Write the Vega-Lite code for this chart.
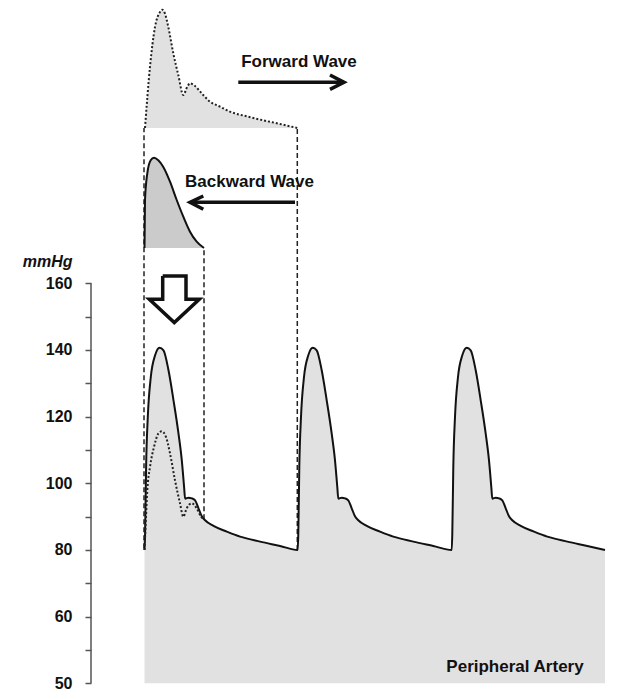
{
  "$schema": "https://vega.github.io/schema/vega-lite/v6.json",
  "autosize": {"type": "none"},
  "padding": {"left": 91, "top": 0, "right": 0, "bottom": 15.7},
  "width": 536,
  "height": 683.3,
  "background": "white",
  "config": {"view": {"stroke": null}},
  "datasets": {
    "pressure": [
      {"t": 0, "v": 80}, {"t": 0.6, "v": 84.9}, {"t": 1.6, "v": 104.9}, {"t": 3.3, "v": 119.9}, {"t": 6.3, "v": 131.9}, {"t": 10.6, "v": 138.4}, {"t": 15, "v": 140.7}, {"t": 19, "v": 139.9}, {"t": 24, "v": 133.9}, {"t": 29, "v": 124.9}, {"t": 34, "v": 114.9}, {"t": 37.3, "v": 106.9}, {"t": 39.6, "v": 98.9}, {"t": 40.6, "v": 95.4}, {"t": 44, "v": 95.7}, {"t": 47.3, "v": 95.5}, {"t": 50.6, "v": 94.9}, {"t": 54, "v": 92.5}, {"t": 57.3, "v": 90.1}, {"t": 60.6, "v": 88.9}, {"t": 69, "v": 87.2}, {"t": 82.3, "v": 85.5}, {"t": 95.6, "v": 84}, {"t": 115.6, "v": 82.5}, {"t": 135.6, "v": 81.2},
      {"t": 153.2, "v": 80}, {"t": 153.8, "v": 84.9}, {"t": 154.8, "v": 104.9}, {"t": 156.5, "v": 119.9}, {"t": 159.5, "v": 131.9}, {"t": 163.8, "v": 138.4}, {"t": 168.2, "v": 140.7}, {"t": 172.2, "v": 139.9}, {"t": 177.2, "v": 133.9}, {"t": 182.2, "v": 124.9}, {"t": 187.2, "v": 114.9}, {"t": 190.5, "v": 106.9}, {"t": 192.8, "v": 98.9}, {"t": 193.8, "v": 95.4}, {"t": 197.2, "v": 95.7}, {"t": 200.5, "v": 95.5}, {"t": 203.8, "v": 94.9}, {"t": 207.2, "v": 92.5}, {"t": 210.5, "v": 90.1}, {"t": 213.8, "v": 88.9}, {"t": 222.2, "v": 87.2}, {"t": 235.5, "v": 85.5}, {"t": 248.8, "v": 84}, {"t": 268.8, "v": 82.5}, {"t": 288.8, "v": 81.2},
      {"t": 307.2, "v": 80}, {"t": 307.8, "v": 84.9}, {"t": 308.8, "v": 104.9}, {"t": 310.5, "v": 119.9}, {"t": 313.5, "v": 131.9}, {"t": 317.8, "v": 138.4}, {"t": 322.2, "v": 140.7}, {"t": 326.2, "v": 139.9}, {"t": 331.2, "v": 133.9}, {"t": 336.2, "v": 124.9}, {"t": 341.2, "v": 114.9}, {"t": 344.5, "v": 106.9}, {"t": 346.8, "v": 98.9}, {"t": 347.8, "v": 95.4}, {"t": 351.2, "v": 95.7}, {"t": 354.5, "v": 95.5}, {"t": 357.8, "v": 94.9}, {"t": 361.2, "v": 92.5}, {"t": 364.5, "v": 90.1}, {"t": 367.8, "v": 88.9}, {"t": 376.2, "v": 87.2}, {"t": 389.5, "v": 85.5}, {"t": 402.8, "v": 84}, {"t": 422.8, "v": 82.5}, {"t": 442.8, "v": 81.2}, {"t": 460.5, "v": 80}
    ],
    "forwardPeriph": [
      {"t": 0, "v": 80}, {"t": 1.5, "v": 90}, {"t": 2.8, "v": 97.9}, {"t": 5.5, "v": 104.9}, {"t": 9.5, "v": 110.9}, {"t": 13.8, "v": 114.9}, {"t": 17.2, "v": 115.6}, {"t": 21.5, "v": 113.9}, {"t": 25.5, "v": 109}, {"t": 30.5, "v": 100.9}, {"t": 35.5, "v": 94}, {"t": 38.8, "v": 90}, {"t": 42.2, "v": 92.5}, {"t": 47.2, "v": 94}, {"t": 52.2, "v": 92.5}, {"t": 56.5, "v": 90}, {"t": 59.5, "v": 89.2}
    ],
    "forward": [
      {"t": 0.5, "v": 206.6}, {"t": 5.5, "v": 225}, {"t": 10.5, "v": 236.9}, {"t": 15.5, "v": 241.4}, {"t": 17.8, "v": 242.1}, {"t": 20.5, "v": 240.9}, {"t": 23.8, "v": 236.9}, {"t": 28.8, "v": 229}, {"t": 33.8, "v": 222.5}, {"t": 38.8, "v": 216.5}, {"t": 42.8, "v": 219}, {"t": 45.5, "v": 220}, {"t": 50.5, "v": 219.2}, {"t": 57.2, "v": 217}, {"t": 65.5, "v": 214.5}, {"t": 75.5, "v": 213}, {"t": 85.5, "v": 211.5}, {"t": 102.2, "v": 210.1}, {"t": 118.8, "v": 208.9}, {"t": 135.5, "v": 207.8}, {"t": 152.8, "v": 206.6}
    ],
    "backward": [
      {"t": 0, "v": 170.6}, {"t": 0.5, "v": 185}, {"t": 2.8, "v": 193}, {"t": 6.2, "v": 196.9}, {"t": 9.5, "v": 197.7}, {"t": 13.8, "v": 196.9}, {"t": 18.8, "v": 194.9}, {"t": 25.5, "v": 190.5}, {"t": 32.2, "v": 185}, {"t": 38.8, "v": 180}, {"t": 45.5, "v": 175.5}, {"t": 52.2, "v": 172.5}, {"t": 59.5, "v": 170.6}
    ],
    "dashes": [
      {"t": -0.5, "v": 80.5, "v2": 206.6},
      {"t": 59.5, "v": 89.2, "v2": 170.6},
      {"t": 152.8, "v": 80, "v2": 206.6}
    ],
    "axisline": [{"t": -53.5, "v": 40, "v2": 160}],
    "arrows": [
      {"id": "fs", "i": 0, "t": 93.8, "v": 220.3}, {"id": "fs", "i": 1, "t": 198.8, "v": 220.3},
      {"id": "fh", "i": 0, "t": 185.5, "v": 222.5}, {"id": "fh", "i": 1, "t": 199.5, "v": 220.3}, {"id": "fh", "i": 2, "t": 185.5, "v": 218.2},
      {"id": "bs", "i": 0, "t": 47.2, "v": 184.3}, {"id": "bs", "i": 1, "t": 150.5, "v": 184.3},
      {"id": "bh", "i": 0, "t": 58.8, "v": 186.2}, {"id": "bh", "i": 1, "t": 45.5, "v": 184.3}, {"id": "bh", "i": 2, "t": 58.8, "v": 182.2},
      {"id": "down", "i": 0, "t": 18.2, "v": 162.2}, {"id": "down", "i": 1, "t": 41.5, "v": 162.2}, {"id": "down", "i": 2, "t": 41.5, "v": 155.2}, {"id": "down", "i": 3, "t": 54.8, "v": 155.2}, {"id": "down", "i": 4, "t": 29.8, "v": 148.2}, {"id": "down", "i": 5, "t": 4.8, "v": 155.2}, {"id": "down", "i": 6, "t": 18.2, "v": 155.2}, {"id": "down", "i": 7, "t": 18.2, "v": 162.2}
    ],
    "labels": [
      {"t": 154.5, "v": 224.8, "label": "Forward Wave"},
      {"t": 105, "v": 189.0, "label": "Backward Wave"},
      {"t": 370.5, "v": 43.3, "label": "Peripheral Artery"}
    ]
  },
  "encoding": {
    "x": {"field": "t", "type": "quantitative", "scale": {"domain": [-53.5, 482.5], "nice": false, "zero": false}, "axis": null},
    "y": {"field": "v", "type": "quantitative", "scale": {"domain": [40, 245], "nice": false, "zero": false},
      "axis": {"values": [40, 50, 60, 70, 80, 90, 100, 110, 120, 130, 140, 150, 160],
        "labelExpr": "datum.value == 40 ? '50' : (datum.value % 20 == 0 ? datum.label : '')",
        "grid": false, "domain": false, "tickSize": 6, "tickWidth": 1.5, "tickColor": "#555",
        "labelPadding": 13, "labelFont": "Liberation Sans", "labelFontSize": 16, "labelFontWeight": "bold", "labelColor": "#111", "labelFlush": false, "labelOverlap": false,
        "title": "mmHg", "titleAngle": 0, "titleAlign": "right", "titleBaseline": "alphabetic", "titleX": -19, "titleY": 266,
        "titleFont": "Liberation Sans", "titleFontSize": 16, "titleFontWeight": "bold", "titleFontStyle": "italic", "titleColor": "#111"}}
  },
  "layer": [
    {"data": {"name": "pressure"}, "mark": {"type": "area", "interpolate": "monotone", "color": "#e1e1e1"}, "encoding": {"y2": {"datum": 40}}},
    {"data": {"name": "forward"}, "mark": {"type": "area", "interpolate": "monotone", "color": "#e1e1e1"}, "encoding": {"y2": {"datum": 206.6}}},
    {"data": {"name": "backward"}, "mark": {"type": "area", "interpolate": "monotone", "color": "#cbcbcb"}, "encoding": {"y2": {"datum": 170.6}}},
    {"data": {"name": "dashes"}, "mark": {"type": "rule", "color": "#222", "strokeWidth": 1.5, "strokeDash": [5, 3]}, "encoding": {"y2": {"field": "v2"}}},
    {"data": {"name": "axisline"}, "mark": {"type": "rule", "color": "#555", "strokeWidth": 1.5}, "encoding": {"y2": {"field": "v2"}}},
    {"data": {"name": "pressure"}, "mark": {"type": "line", "interpolate": "monotone", "color": "#111", "strokeWidth": 2}, "encoding": {}},
    {"data": {"name": "forwardPeriph"}, "mark": {"type": "line", "interpolate": "monotone", "color": "#222", "strokeWidth": 2, "strokeDash": [2, 2]}, "encoding": {}},
    {"data": {"name": "forward"}, "mark": {"type": "line", "interpolate": "monotone", "color": "#222", "strokeWidth": 2, "strokeDash": [2, 2]}, "encoding": {}},
    {"data": {"name": "backward"}, "mark": {"type": "line", "interpolate": "monotone", "color": "#111", "strokeWidth": 2}, "encoding": {}},
    {"data": {"name": "arrows"}, "mark": {"type": "line", "color": "#111", "strokeWidth": 3.5, "strokeJoin": "miter", "strokeCap": "butt"}, "encoding": {"detail": {"field": "id"}, "order": {"field": "i", "type": "quantitative"}}},
    {"data": {"name": "labels"}, "mark": {"type": "text", "align": "center", "baseline": "alphabetic", "font": "Liberation Sans", "fontWeight": "bold", "fontSize": 17, "color": "#111"}, "encoding": {"text": {"field": "label"}}}
  ]
}
